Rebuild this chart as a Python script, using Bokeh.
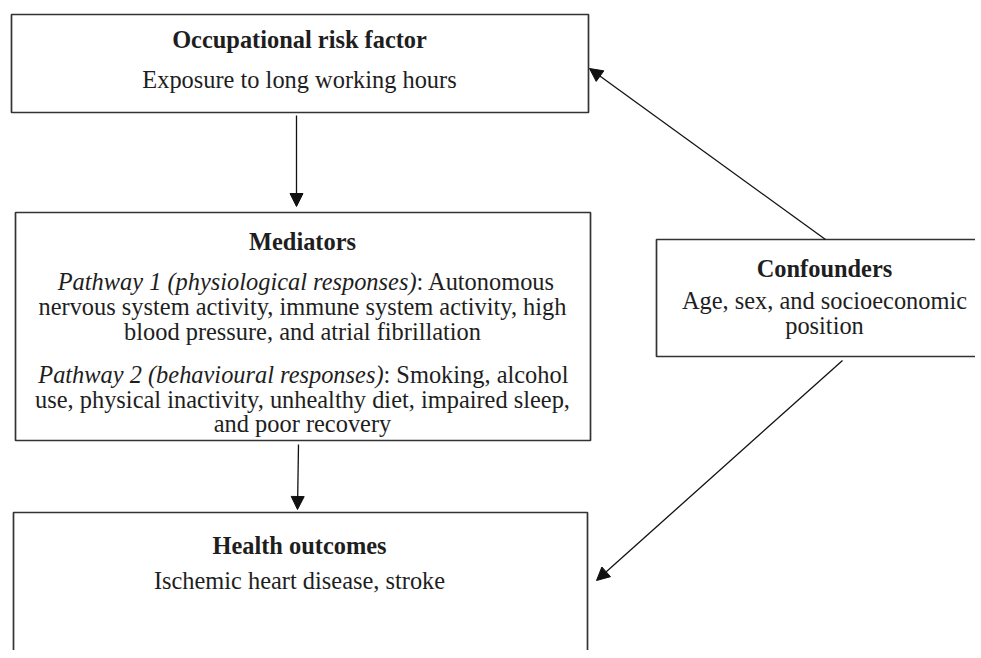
from bokeh.plotting import figure
from bokeh.models import Range1d, Arrow, NormalHead, ColumnDataSource
from bokeh.core.properties import value
from bokeh.embed import file_html
from bokeh.resources import INLINE

# ---- content (text) ----
box_names = ["risk", "mediators", "outcomes", "confounders"]
box_titles = ["Occupational risk factor", "Mediators", "Health outcomes", "Confounders"]
risk_body = ["Exposure to long working hours"]
outcome_body = ["Ischemic heart disease, stroke"]
confounder_body = ["Age, sex, and socioeconomic", "position"]
pathway_labels = ["Pathway 1 (physiological responses)", "Pathway 2 (behavioural responses)"]
pathway_first = [": Autonomous", ": Smoking, alcohol"]
pathway_rest = [
    ["nervous system activity, immune system activity, high",
     "blood pressure, and atrial fibrillation"],
    ["use, physical inactivity, unhealthy diet, impaired sleep,",
     "and poor recovery"],
]
edges = [("risk", "mediators"), ("mediators", "outcomes"),
         ("confounders", "risk"), ("confounders", "outcomes")]

# ---- layout (pixel positions of the page) ----
W, H = 975, 650
box_left = [11, 15, 13, 656]
box_right = [588, 590, 587, 1000]
box_top = [14, 212, 512, 239]
box_bottom = [112, 440, 720, 356]
title_x = [299, 302, 299, 824]
title_y = [39, 241, 545, 268]
risk_body_y = [79]
outcome_body_y = [580]
conf_body_x = 824
conf_body_y = [300, 325]
pathway_split = [416, 383]
pathway_y = [281, 374]
pathway_rest_x = 302
pathway_rest_y = [[306, 331], [399, 423]]
edge_coords = [((296, 115), (296, 206)), ((298, 444), (297, 509)),
               ((825, 239), (589, 68)), ((842, 360), (596, 580))]

FONT = value("Liberation Serif")
FS = "24.4px"
INK = "#1e1e1e"
LINE = "#333333"

p = figure(width=W, height=H, x_range=Range1d(0, W), y_range=Range1d(H, 0),
           output_backend="svg", toolbar_location=None, min_border=0,
           background_fill_color="white", border_fill_color="white")
p.axis.visible = False
p.grid.visible = False
p.outline_line_color = None

p.quad(left=box_left, right=box_right, top=box_top, bottom=box_bottom,
       fill_color=None, line_color=LINE, line_width=1.7)

for (x0, y0), (x1, y1) in edge_coords:
    p.add_layout(Arrow(end=NormalHead(size=13, fill_color="#111111", line_color="#111111"),
                       x_start=x0, y_start=y0, x_end=x1, y_end=y1,
                       line_color="#111111", line_width=1.3))

def txt(xs, ys, texts, style="normal", align="center"):
    src = ColumnDataSource(dict(x=xs, y=ys, t=texts))
    p.text(x="x", y="y", text="t", source=src, text_font=FONT, text_font_size=FS,
           text_font_style=style, text_align=align, text_baseline="middle",
           text_color=INK)

# titles
txt(title_x, title_y, box_titles, style="bold")
# bodies
txt([title_x[0]], risk_body_y, risk_body)
txt([title_x[2]], outcome_body_y, outcome_body)
txt([conf_body_x] * len(confounder_body), conf_body_y, confounder_body)
# mediator pathways
txt(pathway_split, pathway_y, pathway_labels, style="italic", align="right")
txt(pathway_split, pathway_y, pathway_first, align="left")
for lines, ys in zip(pathway_rest, pathway_rest_y):
    txt([pathway_rest_x] * len(lines), ys, lines)

open("out.html", "w").write(file_html(p, INLINE))
